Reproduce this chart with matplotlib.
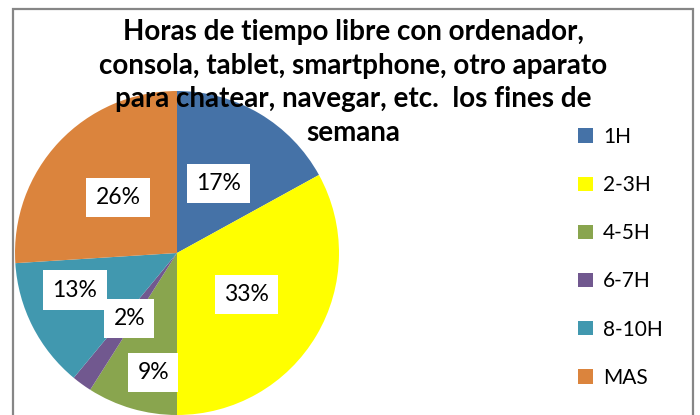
import numpy as np
import matplotlib
matplotlib.use("Agg")
import matplotlib.pyplot as plt
from matplotlib.patches import Rectangle

plt.rcParams['font.family'] = ['Lato', 'DejaVu Sans']

categories = ["1H", "2-3H", "4-5H", "6-7H", "8-10H", "MAS"]
values = [17, 33, 9, 2, 13, 26]
colors = ["#4572A7", "#FFFF00", "#89A54E", "#71588F", "#4198AF", "#DB843D"]
title_lines = ["Horas de tiempo libre con ordenador,",
               "consola, tablet, smartphone, otro aparato",
               "para chatear, navegar, etc.  los fines de",
               "semana"]

# label placement along each wedge's bisector (radius fraction, angle nudge in degrees)
label_dist = [0.5, 0.5, 0.75, 0.5, 0.67, 0.5]
label_nudge = [0, 0, 5, 0, -7, 0]

W, H = 700, 415
fig = plt.figure(figsize=(W / 100, H / 100), dpi=100)

# chart frame
fig.patches.append(Rectangle((12.5 / W, -0.05), 680 / W, (H - 9) / H + 0.05,
                             transform=fig.transFigure, fill=False,
                             edgecolor="#868686", linewidth=1.6))

cx, cy, r = 177, 415 - 253, 162
ax = fig.add_axes([(cx - r) / W, (cy - r) / H, 2 * r / W, 2 * r / H])
wedges, _ = ax.pie(values, colors=colors, startangle=90, counterclock=False,
                   radius=1, wedgeprops=dict(linewidth=0))
ax.set_xlim(-1, 1)
ax.set_ylim(-1, 1)
ax.set_aspect("equal")
ax.axis("off")

for w, v, d, n in zip(wedges, values, label_dist, label_nudge):
    ang = np.deg2rad((w.theta1 + w.theta2) / 2 + n)
    ax.text(d * np.cos(ang), d * np.sin(ang), f"{v}%", ha="center", va="center",
            fontsize=16.5, color="black",
            bbox=dict(boxstyle="square,pad=0.4", facecolor="white", edgecolor="none"))

# title, one line at a time so each line keeps its own centred extent
for i, line in enumerate(title_lines):
    fig.text(353 / W, 1 - (40 + 33.7 * i) / H, line, ha="center", va="baseline",
             fontsize=20, fontweight="bold")

handles = [Rectangle((0, 0), 1, 1, facecolor=c, edgecolor="none") for c in colors]
fig.legend(handles, categories, loc="upper left", bbox_to_anchor=(578 / W, 1 - 127 / H),
           frameon=False, fontsize=15, handlelength=0.7, handleheight=0.7,
           handletextpad=0.5, labelspacing=1.35, borderpad=0, borderaxespad=0)

fig.savefig("out.png", dpi=100)
